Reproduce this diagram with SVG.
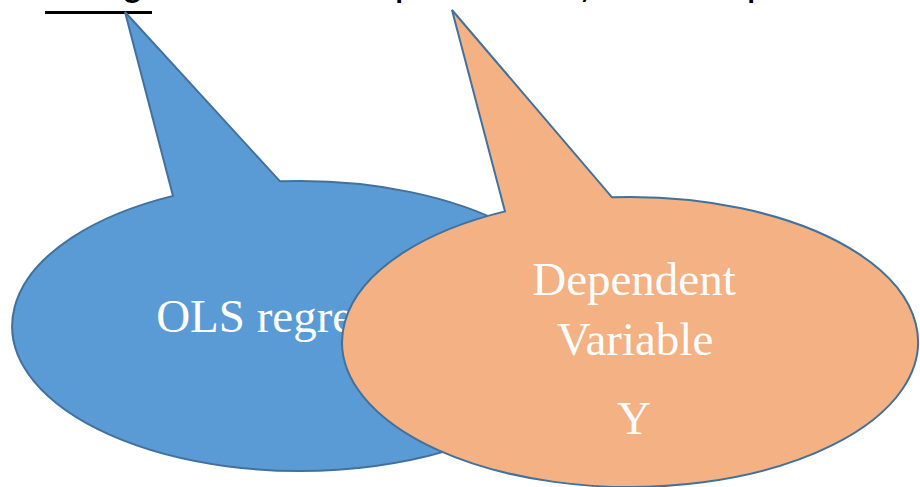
<svg xmlns="http://www.w3.org/2000/svg" width="920" height="487" viewBox="0 0 920 487">
  <style>
    .callout { stroke: #41719C; stroke-width: 2; stroke-linejoin: miter; }
    .blue { fill: #5B9BD5; }
    .orange { fill: #F4B183; }
    .label { font-family: "Liberation Serif", "Times New Roman", serif; font-size: 47px; fill: #FFFFFF; text-anchor: middle; }
    .head { font-family: "Liberation Mono", "Courier New", monospace; font-size: 42px; fill: #000000; text-anchor: middle; }
  </style>

  <rect width="920" height="487" fill="#FFFFFF"/>

  <!-- heading line running off the top edge; only its descenders remain -->
  <g id="heading">
    <line x1="45" y1="12.5" x2="152" y2="12.5" stroke="#000000" stroke-width="3"/>
    <text class="head" x="132" y="-6.5">g</text>
    <text class="head" x="406" y="-6.5">p</text>
    <text class="head" x="590" y="-6.5">,</text>
    <text class="head" x="758" y="-6.5">p</text>
  </g>

  <!-- left speech bubble -->
  <g id="ols-regression">
    <path class="callout blue" d="M173,195.9 L125,12 L280,181.35 A288,145 0 1,1 173,195.9 Z"/>
    <text class="label" x="303" y="332">OLS regression</text>
  </g>

  <!-- right speech bubble, drawn over the left one -->
  <g id="dependent-variable">
    <path class="callout orange" d="M505,211.4 L452,10 L612,197.3 A288,145 0 1,1 505,211.4 Z"/>
    <text class="label" x="634" y="295">Dependent</text>
    <text class="label" x="635" y="355">Variable</text>
    <text class="label" x="634" y="434">Y</text>
  </g>
</svg>
